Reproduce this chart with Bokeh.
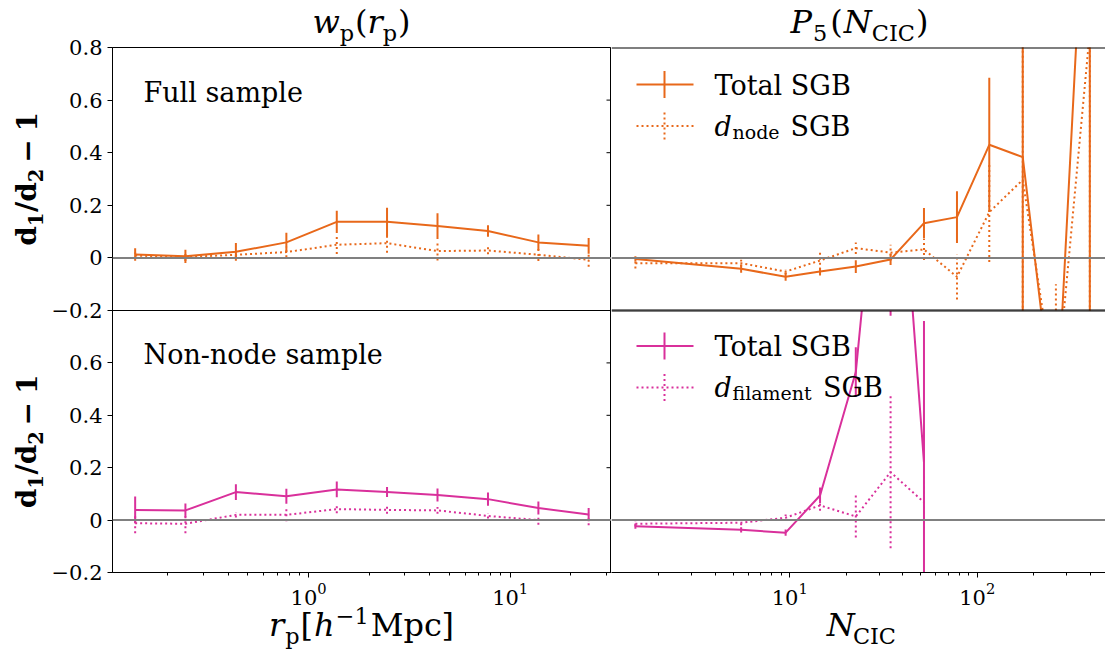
import math
from bokeh.plotting import figure
from bokeh.layouts import column, row
from bokeh.models import (Range1d, FixedTicker, Span, Label, Arrow,
                          CustomJSTickFormatter)
from bokeh.embed import file_html
from bokeh.resources import INLINE

# ---------------- data ----------------
rp = [0.138, 0.245, 0.436, 0.776, 1.38, 2.45, 4.36, 7.76, 13.8, 24.5]
full_wp_total = [0.013, 0.006, 0.023, 0.059, 0.137, 0.137, 0.121, 0.102, 0.059, 0.046]
full_wp_total_err = [0.024, 0.025, 0.034, 0.037, 0.042, 0.054, 0.049, 0.022, 0.030, 0.030]
full_wp_node = [0.009, 0.003, 0.012, 0.022, 0.050, 0.056, 0.026, 0.028, 0.012, -0.007]
full_wp_node_err = [0.012, 0.015, 0.010, 0.020, 0.035, 0.036, 0.036, 0.014, 0.024, 0.027]
nonnode_wp_total = [0.039, 0.037, 0.107, 0.091, 0.117, 0.107, 0.096, 0.080, 0.046, 0.021]
nonnode_wp_total_err = [0.051, 0.026, 0.030, 0.029, 0.030, 0.019, 0.025, 0.025, 0.025, 0.025]
nonnode_wp_fil = [-0.012, -0.014, 0.020, 0.020, 0.042, 0.039, 0.037, 0.016, 0.0, 0.0]
nonnode_wp_fil_err = [0.038, 0.036, 0.010, 0.024, 0.016, 0.015, 0.013, 0.010, 0.018, 0.020]

ncic = [1.5, 5.5, 9.5, 14.5, 22.5, 34.5, 52, 78, 116, 175, 263, 399]
full_p5_total = [-0.004, -0.041, -0.072, -0.052, -0.033, -0.006, 0.132, 0.155, 0.430, 0.383, -0.67, 1.81]
full_p5_total_err = [0.010, 0.015, 0.015, 0.015, 0.024, 0.021, 0.058, 0.098, 0.255, 1.2, 0.3, 2.5]
full_p5_node = [-0.020, -0.020, -0.052, -0.010, 0.037, 0.020, 0.032, -0.072, 0.174, 0.297, -0.53, 0.86]
full_p5_node_err = [0.020, 0.013, 0.010, 0.035, 0.022, 0.030, 0.040, 0.086, 0.190, 1.0, 0.43, 1.2]

ncic_nn = [1.5, 5.5, 9.5, 14.5, 22.5, 34.5, 52]
nonnode_p5_total = [-0.023, -0.037, -0.048, 0.094, 0.565, 1.93, 0.22]
nonnode_p5_total_err = [0.010, 0.010, 0.012, 0.030, 0.095, 1.15, 0.54]
nonnode_p5_fil = [-0.014, -0.010, 0.009, 0.056, 0.014, 0.183, 0.068]
nonnode_p5_fil_err = [0.010, 0.010, 0.012, 0.020, 0.080, 0.290, 0.100]

yticks_top = [-0.2, 0.0, 0.2, 0.4, 0.6, 0.8]
yticks_bottom = [-0.2, 0.0, 0.2, 0.4, 0.6]

ORANGE = "#e8681a"
PINK = "#d9309b"
FONT = "DejaVu Serif"
DOT = "2 3"

# ---------------- layout ----------------
TOTAL_W = 1104
TOP_H = 47          # strip with the column titles
OVER = 14           # the title strip overlaps the panels' top border
MIDO = 14           # upper row's bottom border, overlapped by the lower row
LEFT_W = 48         # strip with the y labels
FW_L, FW_R = 499, 494
FH_T, FH_B = 263, 262
BL = 111 - LEFT_W   # room for y tick labels
BB = 40             # room for x tick labels
BOT_OVER = 14       # the x-label strip overlaps the panels' bottom border
BOT_H = 650 - 2 - (TOP_H - OVER + FH_T + FH_B + BB) + BOT_OVER
XR_L = (10 ** -0.9725, 10 ** 1.5025)
XR_R = (10 ** 0.0486, 10 ** 2.6846)
MID = 0.35          # baseline -> text middle, in em


def make_fig(xr, fw, fh, bl, bt, bb, outline):
    p = figure(frame_width=fw, frame_height=fh, x_axis_type="log",
               x_range=Range1d(*xr), y_range=Range1d(-0.2, 0.8),
               output_backend="svg", toolbar_location=None,
               min_border_left=bl, min_border_right=0,
               min_border_top=bt, min_border_bottom=bb)
    p.xgrid.visible = False
    p.ygrid.visible = False
    p.outline_line_color = "black" if outline else None
    p.outline_line_width = 1
    p.outline_line_alpha = 1
    p.background_fill_color = None
    p.border_fill_color = None
    p.add_layout(Span(location=0, dimension="width", line_color="#808080",
                      line_width=2))
    return p


def strip(w, h):
    p = figure(width=w, height=h, x_range=Range1d(0, 1), y_range=Range1d(0, 1),
               output_backend="svg", toolbar_location=None,
               x_axis_location=None, y_axis_location=None,
               min_border=0)
    p.xgrid.visible = False
    p.ygrid.visible = False
    p.outline_line_color = None
    p.background_fill_color = None
    p.border_fill_color = None
    return p


fmt = CustomJSTickFormatter(code="""
if (Math.abs(tick) < 1e-9) { return "0"; }
if (tick < 0) { return "\u2212" + (-tick).toFixed(1); }
return tick.toFixed(1);
""")


def style_y(p, ticks, show):
    ax = p.yaxis[0]
    if not show:
        ax.visible = False
        return
    ax.ticker = FixedTicker(ticks=ticks, minor_ticks=[])
    ax.axis_line_color = "black"
    ax.major_tick_line_color = "black"
    ax.formatter = fmt
    ax.major_label_text_font = FONT
    ax.major_label_text_font_size = "21px"
    ax.major_label_text_color = "black"
    ax.major_tick_out = 5
    ax.major_tick_in = 0
    ax.major_label_standoff = 5
    # tick marks of the neighbouring panel, seen on this panel's right edge
    p.scatter(x=[p.x_range.end] * len(ticks), y=ticks, marker="dash", size=10,
              line_color="black", line_width=1)


def style_x(p, show):
    ax = p.xaxis[0]
    if not show:
        ax.visible = False
        return
    ax.axis_line_color = "black"
    ax.major_tick_line_color = "black"
    ax.minor_tick_line_color = "black"
    ax.major_tick_out = 5
    ax.major_tick_in = 0
    ax.minor_tick_out = 3
    ax.minor_tick_in = 0
    ax.major_label_text_font = FONT
    ax.major_label_text_font_size = "21px"
    ax.major_label_text_color = "black"
    ax.major_label_standoff = 5


def series(p, x, y, e, color, dash):
    p.line(x, y, line_color=color, line_width=2, line_dash=dash)
    p.segment(x0=x, y0=[a - b for a, b in zip(y, e)],
              x1=x, y1=[a + b for a, b in zip(y, e)],
              line_color=color, line_width=2, line_dash=dash)


# ---------------- text helpers ----------------
W = {" ": .318, "(": .390, ")": .390, "[": .390, "]": .390, "/": .337,
     "1": .636, "2": .636, "5": .636, "\u2212": .838, "B": .735, "C": .736,
     "G": .774, "I": .371, "M": .98, "N": .814, "P": .673, "S": .685,
     "T": .671, "a": .597, "c": .562, "d": .640, "e": .592, "f": .371,
     "h": .644, "i": .320, "l": .320, "m": .950, "n": .644, "o": .602,
     "p": .640, "r": .478, "t": .402, "w": .850}


def tw(s, bold=False):
    return sum(W.get(c, 0.6) for c in s) * (1.08 if bold else 1.0)


def lab(p, x, y, text, size, style="normal", vertical=False):
    """x, y: start of the text on its baseline (frame pixels, y up)."""
    if vertical:
        x, y, angle = x - MID * size, y, math.pi / 2
    else:
        x, y, angle = x, y + MID * size, 0.0
    p.add_layout(Label(x=x, y=y, x_units="screen", y_units="screen",
                       text=text, text_font=FONT, text_font_size=f"{size}px",
                       text_font_style=style, text_color="black",
                       text_align="left", text_baseline="middle",
                       angle=angle))


def compose(p, pieces, center, base, vertical=False):
    widths = [tw(t, "bold" in st) * sz for (t, sz, st, sh, g) in pieces]
    total = sum(widths) + sum(pc[4] for pc in pieces)
    pos = center - total / 2
    for (t, sz, st, sh, g), w in zip(pieces, widths):
        pos += g
        if vertical:
            lab(p, base + sh, pos, t, sz, st, vertical=True)
        else:
            lab(p, pos, base - sh, t, sz, st)
        pos += w


def legend_entry(p, y, color, dash):
    p.add_layout(Arrow(x_start=25, y_start=y, x_end=82, y_end=y,
                       start_units="screen", end_units="screen",
                       start=None, end=None, line_color=color,
                       line_width=2, line_dash=dash))
    p.add_layout(Arrow(x_start=53, y_start=y - 13.5, x_end=53, y_end=y + 13.5,
                       start_units="screen", end_units="screen",
                       start=None, end=None, line_color=color,
                       line_width=2, line_dash=dash))


S, s = 32, 22.4
YL = [("d", 28, "bold", 0, 0), ("1", 19.6, "bold", 6, 0), ("/", 28, "bold", 0, 1),
      ("d", 28, "bold", 0, 0), ("2", 19.6, "bold", 6, 0), ("\u2212", 28, "bold", 0, 6),
      ("1", 28, "bold", 0, 6)]

# ---------------- panels ----------------
tl = make_fig(XR_L, FW_L, FH_T, BL, OVER, MIDO, True)
tr = make_fig(XR_R, FW_R, FH_T, 0, OVER, MIDO, False)
bl = make_fig(XR_L, FW_L, FH_B, BL, 0, BB, True)
br = make_fig(XR_R, FW_R, FH_B, 0, 0, BB, False)

# spines of the right-hand panels (their right edge lies outside the picture)
for p_, locs in ((tr, (0.8, -0.2)), (br, (0.8,))):
    for loc in locs:
        p_.add_layout(Span(location=loc, dimension="width", line_color="black",
                           line_width=2))

style_y(tl, yticks_top, True)
style_y(bl, yticks_bottom, True)
style_y(tr, yticks_top, False)
style_y(br, yticks_bottom, False)
style_x(tl, False)
style_x(tr, False)
style_x(bl, True)
style_x(br, True)

series(tl, rp, full_wp_total, full_wp_total_err, ORANGE, "solid")
series(tl, rp, full_wp_node, full_wp_node_err, ORANGE, DOT)
series(bl, rp, nonnode_wp_total, nonnode_wp_total_err, PINK, "solid")
series(bl, rp, nonnode_wp_fil, nonnode_wp_fil_err, PINK, DOT)
series(tr, ncic, full_p5_total, full_p5_total_err, ORANGE, "solid")
series(tr, ncic, full_p5_node, full_p5_node_err, ORANGE, DOT)
series(br, ncic_nn, nonnode_p5_total, nonnode_p5_total_err, PINK, "solid")
series(br, ncic_nn, nonnode_p5_fil, nonnode_p5_fil_err, PINK, DOT)

# panel texts
lab(tl, 31, 209, "Full sample", 27)
lab(bl, 31, 209, "Non-node sample", 27)

# legends
legend_entry(tr, 226, ORANGE, "solid")
legend_entry(tr, 184.5, ORANGE, DOT)
lab(tr, 103, 216, "Total SGB", 27)
lab(tr, 103, 175, "d", 27, "italic")
lab(tr, 121, 171.5, "node", 19)
lab(tr, 179, 175, "SGB", 27)

legend_entry(br, 226.5, PINK, "solid")
legend_entry(br, 185, PINK, DOT)
lab(br, 103, 217, "Total SGB", 27)
lab(br, 103, 176, "d", 27, "italic")
lab(br, 121, 172.5, "filament", 19)
lab(br, 211.5, 176, "SGB", 27)

upper = row(tl, tr)
upper.margin = (0, 0, -MIDO, 0)
lower = row(bl, br)
panels = column(upper, lower)

# ---------------- text strips ----------------
top = strip(TOTAL_W, TOP_H)
top.margin = (0, 0, -OVER, 0)
compose(top, [("w", S, "italic", 0, 0), ("p", s, "normal", 7, 0),
              ("(", S, "normal", 0, 1), ("r", S, "italic", 0, 0),
              ("p", s, "normal", 7, 0), (")", S, "normal", 0, 1)], 361, TOP_H - 33)
compose(top, [("P", S, "italic", 0, 0), ("5", s, "normal", 7, 1),
              ("(", S, "normal", 0, 3), ("N", S, "italic", 0, 1),
              ("CIC", s, "normal", 7, 2), (")", S, "normal", 0, 3)], 859, TOP_H - 33)

LEFT_H = OVER + FH_T + FH_B + BB
left = strip(LEFT_W, LEFT_H)
compose(left, YL, BB + FH_B + FH_T / 2, 36, vertical=True)
compose(left, YL, BB + FH_B / 2, 36, vertical=True)

bottom = strip(TOTAL_W, BOT_H)
bottom.margin = (-BOT_OVER, 0, 0, 0)
XBASE = BOT_H - BOT_OVER - (636 - 612)
compose(bottom, [("r", S, "italic", 0, 0), ("p", s, "normal", 7, 1),
                 ("[", S, "normal", 0, 1), ("h", S, "italic", 0, 1),
                 ("\u22121", s, "normal", -13, 1), ("Mpc", S, "normal", 0, 2),
                 ("]", S, "normal", 0, 1)], 361, XBASE)
compose(bottom, [("N", S, "italic", 0, 0), ("CIC", s, "normal", 7, 0)], 860, XBASE)

page = column(top, row(left, panels), bottom)

open("out.html", "w").write(file_html(page, INLINE))
